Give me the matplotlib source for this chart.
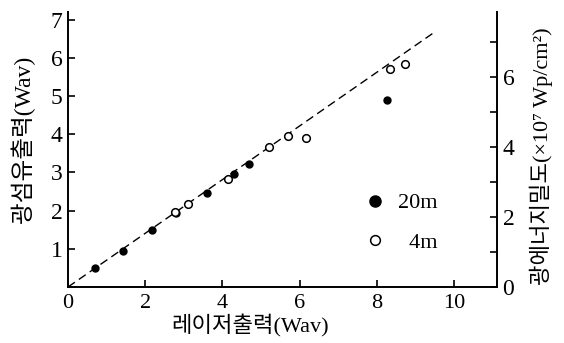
import matplotlib.pyplot as plt
from matplotlib.ticker import MultipleLocator
from matplotlib.lines import Line2D

# 20m 광섬유 (검은 점)
x_20m = [0.70, 1.42, 2.18, 2.80, 3.60, 4.30, 4.69, 8.26]
y_20m = [0.50, 0.94, 1.49, 1.94, 2.46, 2.96, 3.22, 4.90]

# 4m 광섬유 (흰 점)
x_4m = [2.77, 3.11, 4.15, 5.21, 5.70, 6.17, 8.34, 8.73]
y_4m = [1.96, 2.17, 2.83, 3.66, 3.95, 3.90, 5.71, 5.84]

# 점선 (기준선)
fit_x = [0.0, 9.46]
fit_y = [0.0, 6.65]

x_ticks = [0, 2, 4, 6, 8, 10]
y_ticks = [1, 2, 3, 4, 5, 6, 7]
r_ticks = [0, 2, 4, 6]

serif = ['Liberation Serif', 'Noto Sans CJK KR', 'DejaVu Sans']
plt.rcParams['font.family'] = serif

fig = plt.figure(figsize=(5.64, 3.43), dpi=100)
ax = fig.add_axes([0.1206, 0.1633, 0.7606, 0.8017])

ax.plot(fit_x, fit_y, color='black', lw=1.0, dashes=(6, 3.5))
ax.plot(x_20m, y_20m, 'o', color='black', ms=5, mec='black')
ax.plot(x_4m, y_4m, 'o', color='white', ms=5.5, mec='black', mew=1.1)

ax.set_xlim(0, 11.11)
ax.set_ylim(0, 7.2)
ax.set_xticks(x_ticks)
ax.set_yticks(y_ticks)
ax.tick_params(axis='both', direction='in', length=5, width=1.2, labelsize=17, pad=4)
ax.tick_params(axis='x', labelsize=16, pad=5)
ax.spines['top'].set_visible(False)
ax.spines['right'].set_visible(False)
for s in ['left', 'bottom']:
    ax.spines[s].set_linewidth(1.4)

ax2 = ax.twinx()
ax2.set_ylim(0, 7.86)
ax2.set_yticks(r_ticks)
ax2.yaxis.set_minor_locator(MultipleLocator(1))
ax2.tick_params(axis='y', which='both', direction='in', length=5, width=1.2, labelsize=17, pad=4)
ax2.spines['top'].set_visible(False)
ax2.spines['left'].set_visible(False)
ax2.spines['bottom'].set_visible(False)
ax2.spines['right'].set_linewidth(1.4)

handles = [
    Line2D([], [], ls='none', marker='o', color='black', ms=8),
    Line2D([], [], ls='none', marker='o', mfc='white', mec='black', mew=1.1, ms=7),
]
ax.legend(handles, ['20m', '\u20074m'], loc='upper left', bbox_to_anchor=(0.67, 0.375),
          frameon=False, fontsize=16, handletextpad=0.5, labelspacing=0.85,
          handlelength=1.0, borderaxespad=0)

fig.text(0.040, 0.595, '광섬유출력(Wav)', rotation=90, ha='center', va='center',
         fontsize=17)
fig.text(0.960, 0.545, '광에너지밀도(\u00d710\u2077 Wp/cm\u00b2)', rotation=90, ha='center',
         va='center', fontsize=16)
fig.text(0.443, 0.05, '레이저출력(Wav)', ha='center', va='center', fontsize=16)

fig.savefig('out.png', dpi=100)
